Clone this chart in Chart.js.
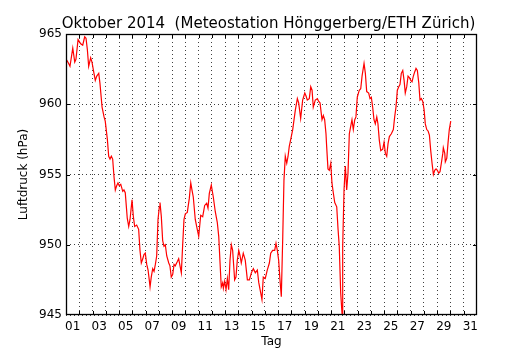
<!DOCTYPE html>
<html><head><meta charset="utf-8">
<script src="https://cdn.jsdelivr.net/npm/chart.js@4/dist/chart.umd.min.js"></script>
<style>html,body{margin:0;padding:0;background:#fff}</style>
</head><body>
<canvas id="c" width="530" height="350"></canvas>
<script>
// Day of month as fractional days since 1 Oct 00:00
const days = [0.05,0.20,0.30,0.51,0.66,0.75,0.91,1.11,1.26,1.41,1.51,1.61,1.71,1.86,1.96,2.11,2.21,2.32,2.47,2.56,2.72,2.87,2.96,3.12,3.22,3.32,3.42,3.52,3.62,3.72,3.82,3.92,4.02,4.13,4.28,4.37,4.47,4.62,4.73,4.83,4.98,5.08,5.18,5.33,5.48,5.58,5.68,5.79,5.88,5.98,6.09,6.19,6.28,6.34,6.43,6.54,6.64,6.74,6.84,6.94,7.04,7.09,7.19,7.29,7.39,7.49,7.60,7.75,7.84,7.94,8.05,8.15,8.24,8.40,8.50,8.60,8.70,8.80,8.90,9.00,9.15,9.30,9.41,9.50,9.60,9.75,9.90,10.01,10.16,10.31,10.46,10.61,10.71,10.81,10.96,11.11,11.26,11.41,11.52,11.62,11.71,11.82,11.87,11.97,12.07,12.17,12.27,12.37,12.47,12.57,12.62,12.72,12.82,12.92,13.03,13.13,13.22,13.37,13.52,13.68,13.83,13.98,14.13,14.28,14.43,14.54,14.69,14.78,14.88,15.03,15.18,15.34,15.44,15.59,15.74,15.84,15.94,16.04,16.14,16.24,16.35,16.44,16.54,16.65,16.75,16.84,16.95,17.10,17.20,17.30,17.45,17.55,17.70,17.85,18.01,18.10,18.20,18.35,18.46,18.56,18.65,18.80,18.96,19.06,19.16,19.31,19.41,19.51,19.61,19.66,19.76,19.86,19.97,20.06,20.16,20.27,20.42,20.52,20.61,20.72,20.82,20.87,20.97,21.07,21.17,21.27,21.37,21.47,21.57,21.67,21.78,21.87,21.97,22.12,22.23,22.33,22.48,22.58,22.68,22.83,22.93,23.03,23.13,23.23,23.33,23.44,23.53,23.63,23.74,23.89,23.99,24.09,24.19,24.29,24.39,24.54,24.69,24.79,24.89,24.99,25.10,25.19,25.29,25.40,25.50,25.59,25.70,25.80,25.90,26.00,26.10,26.20,26.30,26.40,26.50,26.61,26.70,26.80,26.91,27.01,27.10,27.21,27.31,27.41,27.51,27.61,27.71,27.81,27.91,28.01,28.11,28.21,28.31,28.42,28.46,28.57,28.61,28.72,28.81,28.91,29.02];
// Air pressure, hPa
const pressure = [963.15,962.9,962.7,964.0,963.0,963.2,964.6,964.3,964.2,964.8,964.7,963.9,962.7,963.3,963.0,962.2,961.7,962.0,962.2,961.5,959.8,959.1,958.8,957.5,956.3,956.1,956.3,956.1,954.85,953.9,954.2,954.4,954.2,954.3,953.8,953.9,953.7,951.9,951.3,951.8,953.2,952.0,951.3,951.4,951.1,949.6,948.7,949.0,949.3,949.4,948.6,948.2,947.5,947.0,947.7,948.3,948.1,948.6,949.2,951.8,952.7,953.0,952.0,950.3,949.9,950.0,949.2,948.7,948.5,947.7,947.9,948.6,948.5,948.8,949.0,948.5,948.0,950.0,951.8,952.2,952.3,953.3,954.4,953.9,953.4,951.8,951.1,950.6,952.1,952.0,952.8,952.95,952.6,953.65,954.25,953.4,952.35,951.6,950.6,948.7,947.0,947.3,946.9,947.4,946.8,947.6,946.8,948.9,950.0,949.6,948.9,947.5,947.7,948.9,949.6,949.2,948.7,949.4,948.9,947.5,947.5,948.0,948.3,948.0,948.2,947.3,946.55,946.1,947.7,947.6,948.2,948.7,949.4,949.6,949.6,950.1,949.6,948.9,947.5,946.3,950.6,954.6,956.3,955.8,956.3,957.0,957.5,958.2,958.9,959.6,960.4,960.1,959.0,960.3,960.8,960.6,960.3,960.4,961.25,961.0,959.8,960.3,960.4,960.2,960.1,958.9,959.2,958.9,957.9,957.0,955.4,955.3,955.8,954.4,953.7,953.0,952.7,951.1,949.9,946.55,945.1,949.9,953.9,955.6,953.9,955.1,957.9,958.4,958.9,958.2,958.9,959.1,960.5,961.0,961.1,962.0,962.9,962.2,960.9,960.8,960.4,960.5,959.8,958.9,958.6,959.1,958.6,957.45,956.7,956.8,957.3,956.5,956.3,957.2,957.7,957.9,958.2,959.1,959.8,961.0,961.25,961.4,962.2,962.4,961.7,960.8,961.25,962.0,961.9,961.7,961.6,962.0,962.3,962.55,962.4,961.5,960.3,960.4,960.2,959.6,958.6,958.2,958.1,957.8,956.7,955.8,955.0,955.3,955.4,955.3,955.1,955.2,955.8,956.5,956.9,956.5,955.9,956.15,957.2,958.2,958.8];
const dayLabels = ["01","03","05","07","09","11","13","15","17","19","21","23","25","27","29","31"];
const dayBoundaries = [1,2,3,4,5,6,7,8,9,10,11,12,13,14,15,16,17,18,19,20,21,22,23,24,25,26,27,28,29,30];
const yTicks = [945,950,955,960,965];
const yInnerTicks = [950,955,960];

const FONT = "'DejaVu Sans', sans-serif";

const framePlugin = {
  id: 'frame',
  afterDraw(chart) {
    const {ctx, chartArea: a, scales} = chart;
    ctx.save();
    ctx.setLineDash([]);
    ctx.strokeStyle = '#000';
    ctx.lineWidth = 1;
    ctx.beginPath();
    dayBoundaries.forEach(d => {
      const x = Math.round(scales.x.getPixelForValue(d)) + 0.5;
      ctx.moveTo(x, a.bottom); ctx.lineTo(x, a.bottom - 4);
      ctx.moveTo(x, a.top); ctx.lineTo(x, a.top + 4);
    });
    yInnerTicks.forEach(v => {
      const y = Math.round(scales.y.getPixelForValue(v)) + 0.5;
      ctx.moveTo(a.left, y); ctx.lineTo(a.left + 4, y);
      ctx.moveTo(a.right, y); ctx.lineTo(a.right - 4, y);
    });
    ctx.stroke();
    ctx.lineWidth = 1.3;
    ctx.strokeRect(Math.round(a.left) + 0.5, Math.round(a.top) + 0.5, Math.round(a.right - a.left) - 1, Math.round(a.bottom - a.top) - 1);
    ctx.restore();
  }
};

new Chart(document.getElementById('c'), {
  type: 'line',
  data: {
    datasets: [{
      data: days.map((d, i) => ({x: d, y: pressure[i]})),
      borderColor: '#ff0000',
      borderWidth: 1.2,
      pointRadius: 0,
      tension: 0,
      fill: false
    }]
  },
  options: {
    responsive: false,
    animation: false,
    layout: {padding: {left: 7, right: 0, top: 0, bottom: 0}},
    plugins: {
      legend: {display: false},
      tooltip: {enabled: false},
      title: {
        display: true,
        text: 'Oktober 2014  (Meteostation Hönggerberg/ETH Zürich)',
        color: '#000',
        font: {family: FONT, size: 15, weight: 'normal', lineHeight: 1.2},
        padding: {top: 15, bottom: 1}
      }
    },
    scales: {
      x: {
        type: 'linear', position: 'bottom', min: 0, max: 31,
        grid: {display: false, drawTicks: false},
        border: {display: false},
        afterBuildTicks: s => { s.ticks = dayLabels.map((l, i) => ({value: 2 * i + 0.5})); },
        ticks: {autoSkip: false, maxRotation: 0, padding: 5, color: '#000',
                font: {family: FONT, size: 12}, callback: (v, i) => dayLabels[i]},
        title: {display: true, text: 'Tag', color: '#000', font: {family: FONT, size: 12, lineHeight: 1.2}, padding: {top: 0, bottom: 1}},
        afterFit: s => { s.height = 35; }
      },
      xg: {
        type: 'linear', position: 'top', min: 0, max: 31,
        afterBuildTicks: s => { s.ticks = dayBoundaries.map(v => ({value: v})); },
        ticks: {display: false},
        grid: {color: 'rgba(0,0,0,0.75)', lineWidth: 1, drawTicks: false},
        border: {display: false, dash: [1, 3]},
        afterFit: s => { s.height = 0; }
      },
      y: {
        position: 'left', min: 945, max: 965,
        afterBuildTicks: s => { s.ticks = yTicks.map(v => ({value: v})); },
        ticks: {padding: 4, color: '#000', font: {family: FONT, size: 12}, callback: v => String(v)},
        grid: {color: 'rgba(0,0,0,0.75)', lineWidth: 1, drawTicks: false},
        border: {display: false, dash: [1, 3]},
        title: {display: true, text: 'Luftdruck (hPa)', color: '#000', font: {family: FONT, size: 12, lineHeight: 1.2}, padding: {top: 10, bottom: 0}},
        afterFit: s => { s.width = 59; }
      },
      yr: {
        position: 'right', min: 945, max: 965,
        ticks: {display: false},
        grid: {display: false, drawTicks: false},
        border: {display: false},
        afterFit: s => { s.width = 53; }
      }
    }
  },
  plugins: [framePlugin]
});
</script>
</body></html>
